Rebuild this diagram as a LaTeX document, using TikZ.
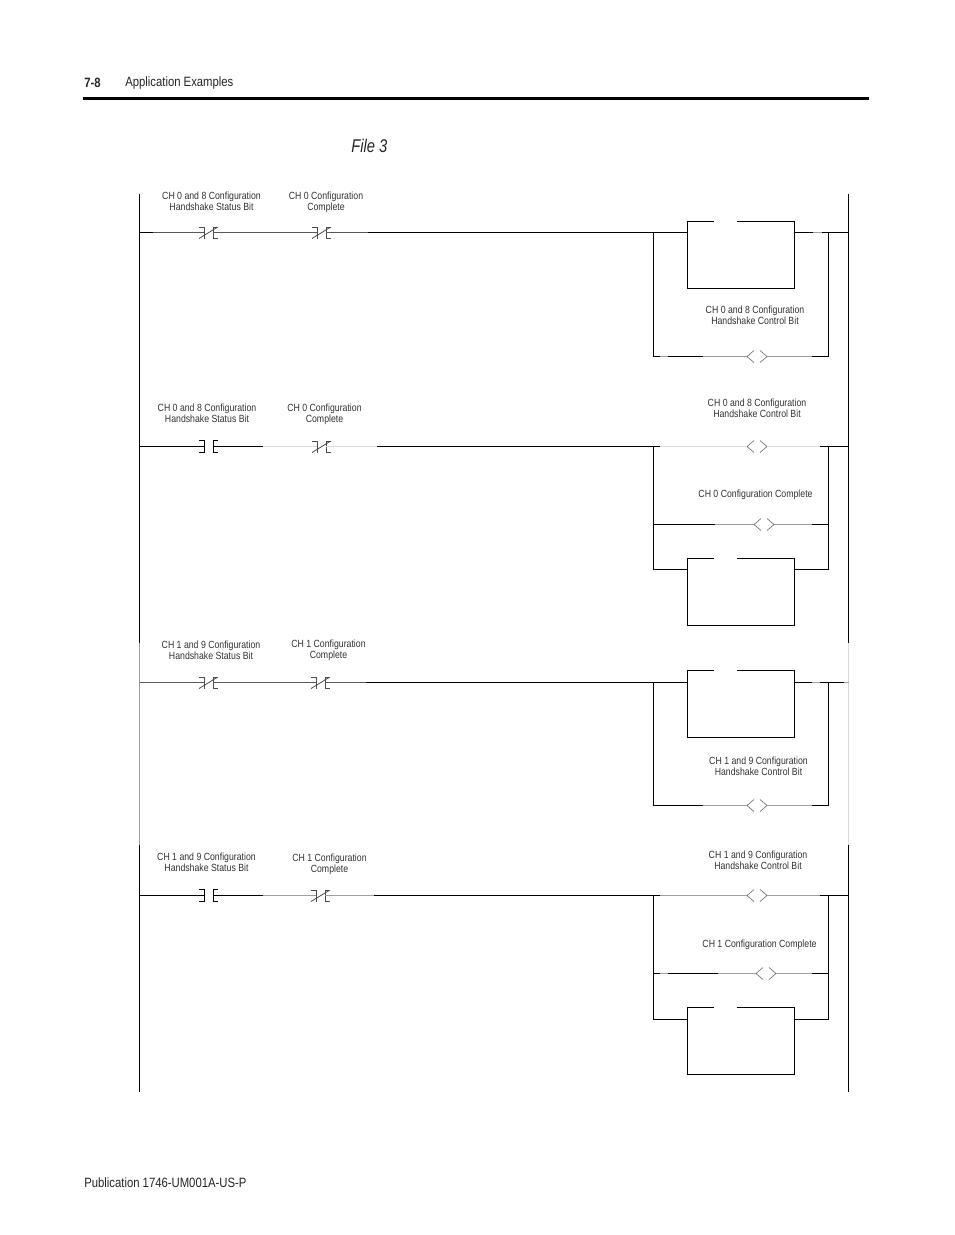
\documentclass[tikz,border=0pt]{standalone}
\usepackage{fontspec}
\setmainfont[FakeStretch=0.84]{Liberation Sans}
\newfontfamily\bodyfont[FakeStretch=0.84]{Liberation Sans}
\newfontfamily\filefont[FakeStretch=0.80]{Liberation Sans}
\definecolor{wiregray}{gray}{0.62}
\definecolor{wirelight}{gray}{0.85}
\definecolor{labelink}{gray}{0.2}
\tikzset{
  wk/.style={draw=black,line width=0.72pt},
  wd/.style={draw=black!65,line width=0.7pt},
  wg/.style={draw=wiregray,line width=0.8pt},
  wl/.style={draw=wirelight,line width=0.9pt},
  sym/.style={draw=black!70,line width=0.6pt},
  coilsym/.style={draw=black!55,line width=0.5pt},
  lab/.style={font=\fontsize{7.8pt}{8.2pt}\selectfont,text=labelink,align=center,inner sep=0pt},
  page/.style={font=\bodyfont\fontsize{10.1pt}{12pt}\selectfont,text=black!85,anchor=west,inner sep=0pt},
  fbox/.style={minimum width=80.25pt,minimum height=50.25pt,inner sep=0pt,outer sep=0pt},
}
% normally closed contact: name, x, y
\newcommand{\ncc}[3]{%
  \coordinate (#1L) at (#2-3,#3);\coordinate (#1R) at (#2+6,#3);
  \draw[sym] (#2-8,#3-5) -- (#2-3,#3-5) -- (#2-3,#3+6);
  \draw[sym] (#2+11,#3-5) -- (#2+6,#3-5) -- (#2+6,#3+6) -- (#2+11,#3+6);
  \draw[sym] (#2-8,#3+6) -- (#2+10,#3-5);}
% normally open contact: name, x, y
\newcommand{\noc}[3]{%
  \coordinate (#1L) at (#2-3,#3);\coordinate (#1R) at (#2+6,#3);
  \draw[wk] (#2-8,#3-6) -- (#2-3,#3-6) -- (#2-3,#3+6) -- (#2-8,#3+6);
  \draw[wk] (#2+11,#3-6) -- (#2+6,#3-6) -- (#2+6,#3+6) -- (#2+11,#3+6);}
% coil: name, x, y
\newcommand{\coil}[3]{%
  \coordinate (#1L) at (#2-8,#3);\coordinate (#1R) at (#2+12,#3);
  \draw[coilsym] (#2-1,#3-6) -- (#2-8,#3) -- (#2-1,#3+6);
  \draw[coilsym] (#2+5,#3-6) -- (#2+12,#3) -- (#2+5,#3+6);}
% function box with gap in the top side: name, top y
\newcommand{\fb}[2]{%
  \node[fbox,anchor=north west] (#1) at (687.5,#2) {};
  \draw[wk] (714,#2) -- (#1.north west) -- (#1.south west) -- (#1.south east) -- (#1.north east) -- (736.5,#2);}
\begin{document}
\begin{tikzpicture}[x=0.75pt,y=-0.75pt]
\useasboundingbox (0,0) rectangle (954,1235);
\fill[white] (0,0) rectangle (954,1235);
% page furniture
\node[page,font=\bodyfont\bfseries\fontsize{10.1pt}{12pt}\selectfont] (pnum) at (84,83) {7-8};
\node[page] (ptitle) at (125,83) {Application Examples};
\coordinate (ruleL) at (83,98.5);\coordinate (ruleR) at (869,98.5);
\draw[black,line width=2.3pt] (ruleL) -- (ruleR);
\node[page,font=\filefont\itshape\fontsize{13.8pt}{16pt}\selectfont] (ftitle) at (351,146) {File 3};
\node[page] (pub) at (84,1182.5) {Publication 1746-UM001A-US-P};
\begin{scope}[shift={(0,0.5)}]
% rails
\coordinate (LT) at (139.5,193);\coordinate (LA) at (139.5,642);\coordinate (LB) at (139.5,844);\coordinate (LE) at (139.5,1091);
\coordinate (RT) at (848.5,193);\coordinate (RA) at (848.5,642);\coordinate (RB) at (848.5,844);\coordinate (RE) at (848.5,1091);
\draw[wk] (LT) -- (LA) (LB) -- (LE) (RT) -- (RA) (RB) -- (RE);
\draw[wg] (LA) -- (LB);
\draw[draw=wirelight,line width=1.3pt] (RA) -- (RB);
% ---- rung 1
\coordinate (a0) at (139.5,232);\coordinate (a1) at (153,232);\coordinate (a2) at (368,232);
\coordinate (a3) at (653.5,232);\coordinate (a4) at (828.5,232);\coordinate (a5) at (848.5,232);
\ncc{ac1}{207}{232}\ncc{ac2}{320}{232}
\draw[wk] (a0) -- (a1);\draw[wd] (a1) -- (ac1L) (ac1R) -- (ac2L) (ac2R) -- (a2);
\fb{ab}{221}
\draw[wk] (a2) -- (a3) -- (ab.west |- a3);
\coordinate (a10) at (813,232);\coordinate (a11) at (822,232);
\draw[wk] (ab.east |- a3) -- (a10) (a11) -- (a5);\draw[wg] (a10) -- (a11);
\coordinate (a6) at (653.5,356);\coordinate (a7) at (828.5,356);\coordinate (a8) at (703,356);\coordinate (a9) at (812,356);
\coordinate (a12) at (660,356);\coordinate (a13) at (668,356);
\coil{ak}{755}{356}
\draw[wk] (a3) -- (a6) -- (a12) (a13) -- (a8);\draw[wg] (a12) -- (a13) (a8) -- (akL) (akR) -- (a9);\draw[wk] (a9) -- (a7) -- (a4);
\node[lab] (al1) at (211.5,201) {CH 0 and 8 Configuration\\Handshake Status Bit};
\node[lab] (al2) at (326,202) {CH 0 Configuration\\Complete};
\node[lab] (al3) at (755,315) {CH 0 and 8 Configuration\\Handshake Control Bit};
% ---- rung 2
\coordinate (b0) at (139.5,446);\coordinate (b1) at (263,446);\coordinate (b2) at (377,446);
\coordinate (b3) at (653.5,446);\coordinate (b4) at (828.5,446);\coordinate (b5) at (848.5,446);
\coordinate (b6) at (660,446);\coordinate (b7) at (820,446);
\noc{bc1}{207}{446}\ncc{bc2}{320}{446}\coil{bk1}{755}{446}
\draw[wk] (b0) -- (bc1L) (bc1R) -- (b1);
\draw[wl] (b1) -- (bc2L) (bc2R) -- (b2) (b6) -- (bk1L) (bk1R) -- (b7);
\draw[wk] (b2) -- (b6) (b7) -- (b5);
\coordinate (b8) at (653.5,524);\coordinate (b9) at (715,524);\coordinate (b10) at (812,524);\coordinate (b11) at (828.5,524);
\coil{bk2}{762}{524}
\draw[wk] (b8) -- (b9) (b10) -- (b11);\draw[wg] (b9) -- (bk2L) (bk2R) -- (b10);
\fb{bb}{558}
\coordinate (b12) at (653.5,569);\coordinate (b13) at (828.5,569);
\draw[wk] (b3) -- (b12) -- (bb.west |- b12);
\draw[wk] (bb.east |- b12) -- (b13) -- (b4);
\node[lab] (bl1) at (207,413) {CH 0 and 8 Configuration\\Handshake Status Bit};
\node[lab] (bl2) at (324.5,414) {CH 0 Configuration\\Complete};
\node[lab] (bl3) at (757,408) {CH 0 and 8 Configuration\\Handshake Control Bit};
\node[lab] (bl4) at (755.5,494) {CH 0 Configuration Complete};
% ---- rung 3
\coordinate (c0) at (139.5,682);\coordinate (c2) at (366,682);
\coordinate (c3) at (653.5,682);\coordinate (c4) at (828.5,682);\coordinate (c5) at (844,682);\coordinate (c5b) at (848.5,682);
\ncc{cc1}{207}{682}\ncc{cc2}{319}{682}
\draw[wd] (c0) -- (cc1L) (cc1R) -- (cc2L) (cc2R) -- (c2);
\fb{cb}{670}
\draw[wk] (c2) -- (c3) -- (cb.west |- c3);
\coordinate (c14) at (812,682);\coordinate (c15) at (820,682);
\draw[wk] (cb.east |- c3) -- (c14) (c15) -- (c5);
\draw[wg] (c14) -- (c15) (c5) -- (c5b);
\coordinate (c6) at (653.5,805);\coordinate (c7) at (828.5,805);\coordinate (c9) at (812,805);\coordinate (c10) at (703,805);
\coil{ck}{755}{805}
\draw[wk] (c3) -- (c6) -- (c10);\draw[wg] (c10) -- (ckL) (ckR) -- (c9);\draw[wk] (c9) -- (c7) -- (c4);
\node[lab] (cl1) at (211,649.5) {CH 1 and 9 Configuration\\Handshake Status Bit};
\node[lab] (cl2) at (328.5,650) {CH 1 Configuration\\Complete};
\node[lab] (cl3) at (758.5,766) {CH 1 and 9 Configuration\\Handshake Control Bit};
% ---- rung 4
\coordinate (d0) at (139.5,895);\coordinate (d1) at (263,895);\coordinate (d2) at (374,895);
\coordinate (d3) at (653.5,895);\coordinate (d4) at (828.5,895);\coordinate (d5) at (848.5,895);
\coordinate (d6) at (660,895);\coordinate (d7) at (820,895);
\noc{dc1}{207}{895}\ncc{dc2}{319}{895}\coil{dk1}{755}{895}
\draw[wk] (d0) -- (dc1L) (dc1R) -- (d1);
\draw[wg] (d1) -- (dc2L) (dc2R) -- (d2) (d6) -- (dk1L) (dk1R) -- (d7);
\draw[wk] (d2) -- (d6) (d7) -- (d5);
\coordinate (d8) at (653.5,973);\coordinate (d9) at (718,973);\coordinate (d10) at (812,973);\coordinate (d11) at (828.5,973);
\coordinate (d14) at (660,973);\coordinate (d15) at (668,973);
\coil{dk2}{764}{973}
\draw[wk] (d8) -- (d14) (d15) -- (d9) (d10) -- (d11);\draw[wg] (d14) -- (d15) (d9) -- (dk2L) (dk2R) -- (d10);
\fb{db}{1007}
\coordinate (d12) at (653.5,1019);\coordinate (d13) at (828.5,1019);
\draw[wk] (d3) -- (d12) -- (db.west |- d12);
\draw[wk] (db.east |- d12) -- (d13) -- (d4);
\node[lab] (dl1) at (206.5,861.5) {CH 1 and 9 Configuration\\Handshake Status Bit};
\node[lab] (dl2) at (329.5,863.5) {CH 1 Configuration\\Complete};
\node[lab] (dl3) at (758,860) {CH 1 and 9 Configuration\\Handshake Control Bit};
\node[lab] (dl4) at (759.5,944) {CH 1 Configuration Complete};
\end{scope}
\end{tikzpicture}
\end{document}
